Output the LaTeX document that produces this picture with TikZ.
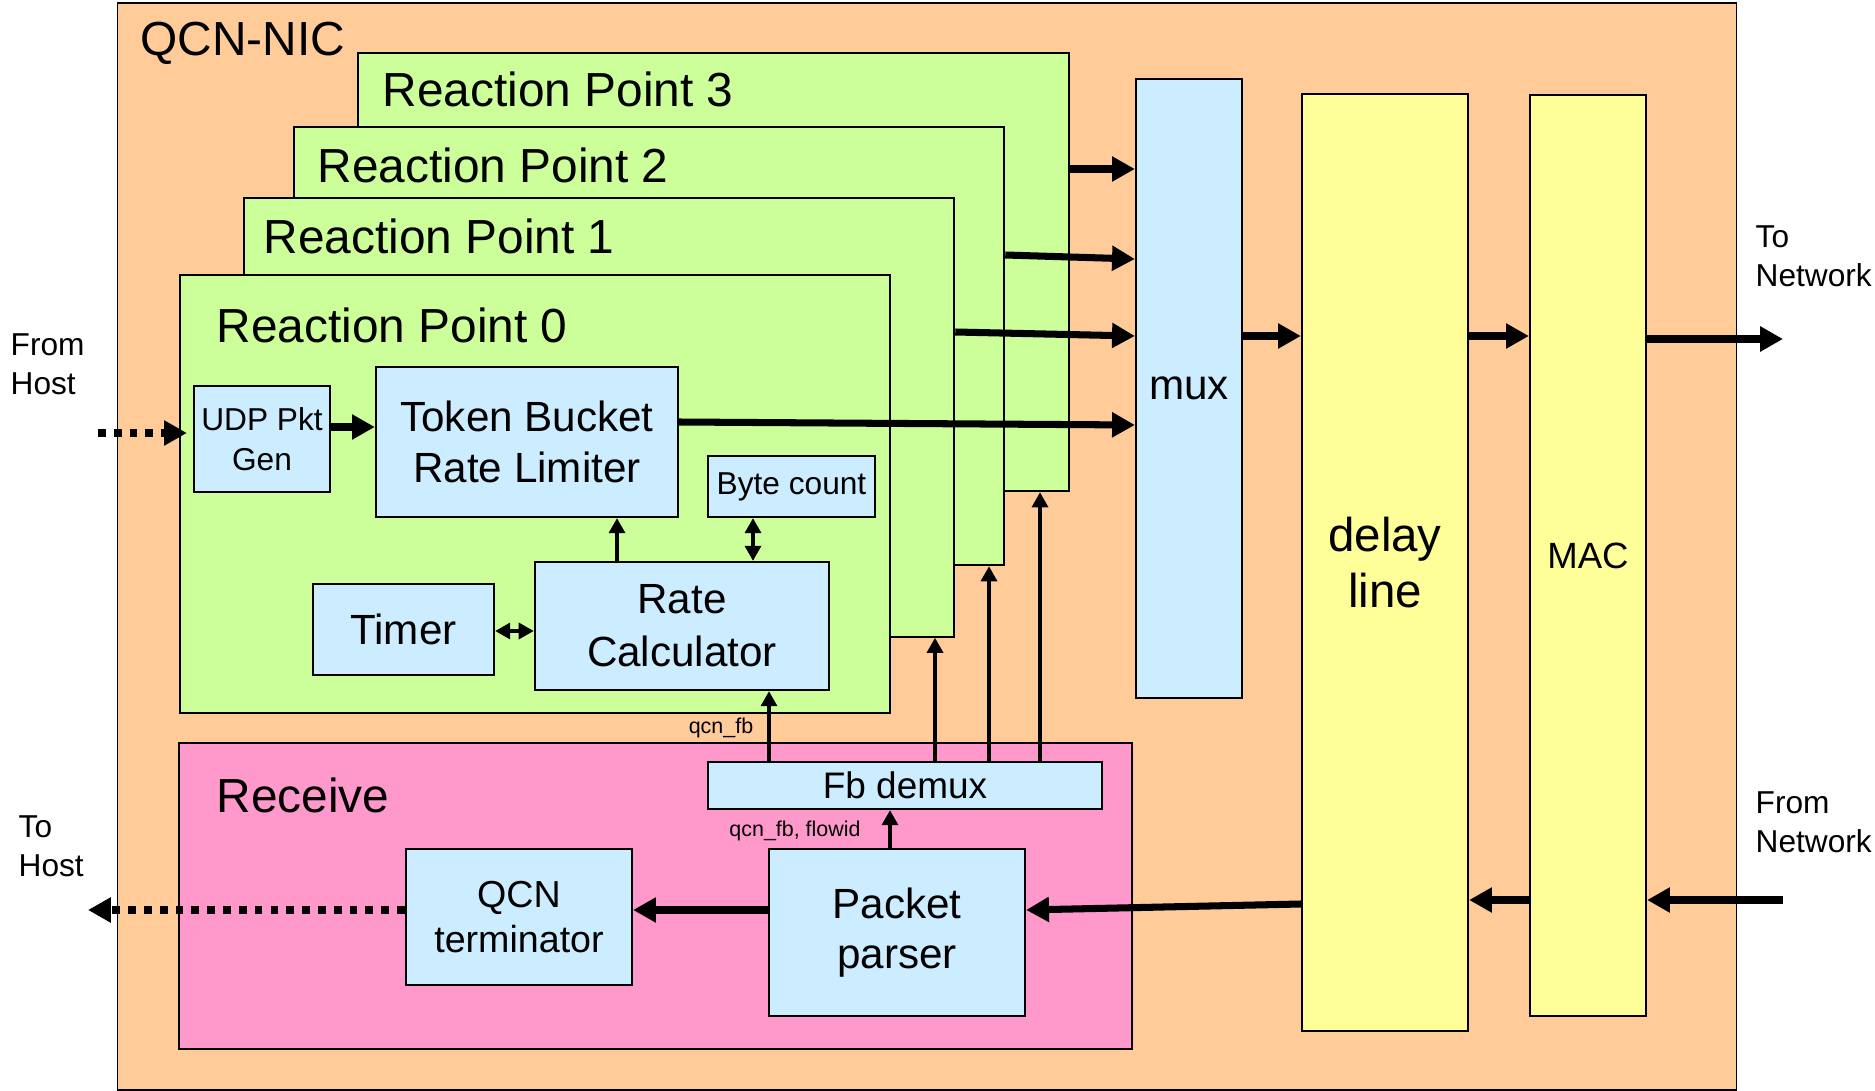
\documentclass[tikz,border=0pt]{standalone}
\usepackage{fontspec}
\setmainfont{Liberation Sans}
\usepackage{xcolor}
\usepackage{tikz}
\usetikzlibrary{calc, arrows.meta}

\definecolor{nicorange}{HTML}{FFCC99}
\definecolor{rpgreen}{HTML}{CCFF99}
\definecolor{blockblue}{HTML}{CCECFF}
\definecolor{recvpink}{HTML}{FF99CC}
\definecolor{lineyellow}{HTML}{FFFF99}

\begin{document}
\begin{tikzpicture}[x = 0.01cm, y = -0.01cm,
		block/.style = {draw, line width = 0.6pt, inner sep = 0pt, align = center},
		bigfont/.style = {font = \fontsize{13.6}{16.3}\selectfont},
		midfont/.style = {font = \fontsize{12}{14.6}\selectfont},
		smallfont/.style = {font = \fontsize{9}{11}\selectfont},
		tinyfont/.style = {font = \fontsize{6.1}{7.3}\selectfont},
		thickarrow/.style = {line width = 2pt, -{Triangle[length = 6.5pt, width = 6.8pt]}},
		thinarrow/.style = {line width = 1.1pt, -{Triangle[length = 4.3pt, width = 4.5pt]}},
		thinboth/.style = {line width = 1.1pt, {Triangle[length = 4.3pt, width = 4.5pt]}-{Triangle[length = 4.3pt, width = 4.5pt]}},
		dotarrow/.style = {thickarrow, line width = 2.2pt, dash pattern = on 2.2pt off 2.3pt}]

	\useasboundingbox (0,0) rectangle (1875,1091);

	\node [block, line width = 0.5pt, fill = nicorange, minimum width = 16.18cm, minimum height = 10.87cm] (nic) at (927,546.5) {};
	\node [bigfont, inner sep = 0pt, anchor = base west] (nictext) at (140,56) {QCN-NIC};

	\foreach \n/\x/\y/\lx/\ly in {3/713.5/272/382/107, 2/649/346/317/183, 1/599/417.5/263/254, 0/535/494/216/343}
	{
		\node [block, fill = rpgreen, minimum width = 7.1cm, minimum height = 4.38cm] (rp\n) at (\x,\y) {};
		\node [bigfont, inner sep = 0pt, anchor = base west] (rp\n text) at (\lx,\ly) {Reaction Point \n};
	}

	\node [block, fill = blockblue, smallfont, font = \fontsize{9}{11.2}\selectfont, minimum width = 1.36cm, minimum height = 1.06cm] (udp) at (262,439) {UDP Pkt\\Gen};
	\node [block, fill = blockblue, midfont, minimum width = 3.02cm, minimum height = 1.5cm] (tb) at (527,442) {Token Bucket\\Rate Limiter};
	\node [block, fill = blockblue, smallfont, minimum width = 1.67cm, minimum height = 0.61cm] (bc) at (791.5,486.5) {Byte count};
	\node [block, fill = blockblue, midfont, minimum width = 1.81cm, minimum height = 0.91cm] (timer) at (403.5,629.5) {Timer};
	\node [block, fill = blockblue, midfont, font = \fontsize{12}{15}\selectfont, minimum width = 2.94cm, minimum height = 1.28cm] (rc) at (682,626) {Rate\\Calculator};

	\node [block, fill = recvpink, minimum width = 9.53cm, minimum height = 3.06cm] (recv) at (655.5,896) {};
	\node [bigfont, inner sep = 0pt, anchor = base west] (recvtext) at (216,812) {Receive};
	\node [block, fill = blockblue, font = \fontsize{10.5}{12.6}\selectfont, minimum width = 3.94cm, minimum height = 0.47cm] (fbd) at (905,785.5) {Fb demux};
	\node [block, fill = blockblue, midfont, font = \fontsize{12}{14.2}\selectfont, minimum width = 2.56cm, minimum height = 1.67cm] (pp) at (897,932.5) {Packet\\parser};
	\node [block, fill = blockblue, font = \fontsize{10.7}{12.8}\selectfont, minimum width = 2.26cm, minimum height = 1.36cm] (qt) at (519,917) {QCN\\terminator};

	\node [block, fill = blockblue, midfont, minimum width = 1.06cm, minimum height = 6.19cm] (mux) at (1189,388.5) {mux};
	\node [block, fill = lineyellow, font = \fontsize{13.5}{15.9}\selectfont, minimum width = 1.66cm, minimum height = 9.37cm] (dl) at (1385,562.5) {delay\\line};
	\node [block, fill = lineyellow, font = \fontsize{10.4}{12.5}\selectfont, minimum width = 1.16cm, minimum height = 9.21cm] (mac) at (1588,555.5) {MAC};

	\node [smallfont, inner sep = 0pt, align = left, anchor = west] (fromhost) at (10,364.5) {From\\Host};
	\node [smallfont, inner sep = 0pt, align = left, anchor = west] (tohost) at (18,846.5) {To\\Host};
	\node [smallfont, inner sep = 0pt, align = left, anchor = west] (tonet) at (1755,256.5) {To\\Network};
	\node [smallfont, inner sep = 0pt, align = left, anchor = west] (fromnet) at (1755,822) {From\\Network};

	\coordinate (hostin) at (98,433);
	\coordinate (hostout) at (88,910);
	\coordinate (netout) at (1783,339);
	\coordinate (netin) at (1783,900);

	\draw [dotarrow, shorten > = 0.06cm] (hostin) -- (udp.west |- hostin);
	\draw [dotarrow] (qt.west |- hostout) -- (hostout);

	\begin{scope}[thickarrow]
		\draw (udp.east |- 0,427) -- (tb.west |- 0,427);
		\draw (tb.east |- 0,422) -- (mux.west |- 0,425);
		\draw (rp1.east |- 0,332) -- (mux.west |- 0,336);
		\draw (rp2.east |- 0,255) -- (mux.west |- 0,259);
		\draw (rp3.east |- 0,169) -- (mux.west |- 0,169);
		\draw (mux.east |- 0,336) -- (dl.west |- 0,336);
		\draw (dl.east |- 0,336) -- (mac.west |- 0,336);
		\draw (mac.east |- netout) -- (netout);
		\draw (netin) -- (mac.east |- netin);
		\draw (mac.west |- netin) -- (dl.east |- netin);
		\draw (dl.west |- 0,904) -- (pp.east |- 0,910);
		\draw (pp.west |- hostout) -- (qt.east |- hostout);
	\end{scope}

	\begin{scope}[thinarrow]
		\draw (rc.north -| 617,0) -- (tb.south -| 617,0);
		\draw (fbd.north -| 769,0) -- (rc.south -| 769,0);
		\draw (pp.north -| 890,0) -- (fbd.south -| 890,0);
		\foreach \x/\r in {935/rp1, 989/rp2, 1040/rp3}
		{
			\draw (fbd.north -| \x,0) -- (\r.south -| \x,0);
		}
	\end{scope}

	\draw [thinboth] (bc.south -| 753,0) -- (rc.north -| 753,0);
	\draw [thinboth] (timer.east |- 0,631) -- (rc.west |- 0,631);

	\node [tinyfont, inner sep = 0pt, anchor = base] (qcnfb) at (721,733) {qcn\_fb};
	\node [tinyfont, inner sep = 0pt, anchor = base] (qcnflow) at (795,836.5) {qcn\_fb, flowid};
\end{tikzpicture}
\end{document}
